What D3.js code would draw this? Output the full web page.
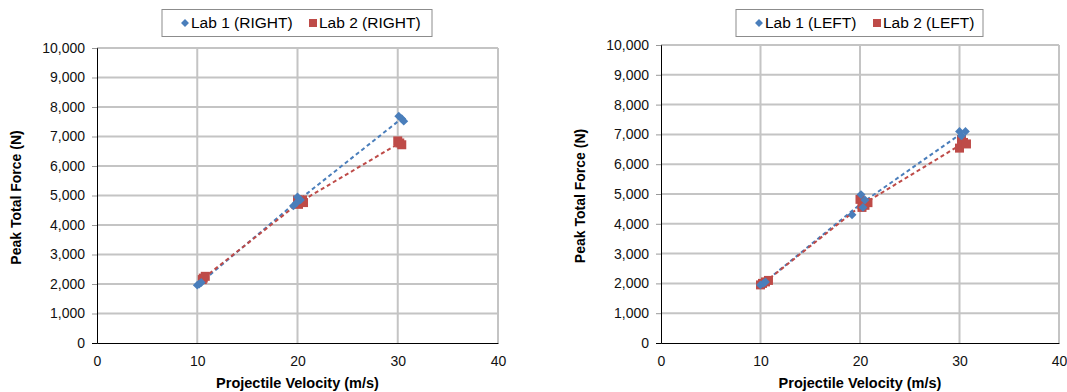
<html>
<head>
<style>
  body { margin: 0; background: #fff; font-family: "Liberation Sans", Arial, Helvetica, sans-serif; }
  svg { display: block; }
</style>
<script src="https://cdn.jsdelivr.net/npm/d3@7"></script>
</head>
<body>
<svg id="grafico" width="1067" height="392"></svg>
<script>
  // ticks
  const xTicks = [0, 10, 20, 30, 40];
  const yTicks = [0, 1000, 2000, 3000, 4000, 5000, 6000, 7000, 8000, 9000, 10000];

  // panel RIGHT: [velocity m/s, peak force N]
  const lab1Right = [[10.0, 1960], [10.2, 2000], [10.4, 2050],
                     [19.6, 4650], [19.9, 4750], [20.0, 4950], [20.3, 4850],
                     [30.1, 7690], [30.4, 7600], [30.6, 7520]];
  const lab2Right = [[10.5, 2150], [10.6, 2200], [10.8, 2260],
                     [20.0, 4850], [20.1, 4700], [20.5, 4850], [20.6, 4760],
                     [30.0, 6850], [30.2, 6780], [30.4, 6720]];

  // panel LEFT
  const lab1Left = [[10.0, 1950], [10.3, 2000], [10.5, 2050],
                    [19.2, 4300], [20.1, 4980], [20.3, 4550], [20.5, 4800],
                    [30.0, 7100], [30.2, 6950], [30.6, 7100]];
  const lab2Left = [[10.0, 1950], [10.2, 2000], [10.5, 2050], [10.8, 2100],
                    [20.0, 4820], [20.2, 4550], [20.5, 4620], [20.8, 4710],
                    [30.0, 6540], [30.2, 6830], [30.4, 6730], [30.7, 6680]];

  const azul = "#4a7ebb", rojo = "#be4b48";
  const svg = d3.select("#grafico");

  function medias(puntos) {
    // media de cada grupo de velocidad para la linea discontinua
    let grupos = d3.groups(puntos, p => Math.round(p[0] / 10) * 10);
    return grupos.map(g => [d3.mean(g[1], p => p[0]), d3.mean(g[1], p => p[1])])
                 .sort((a, b) => a[0] - b[0]);
  }

  function dibujarPanel(conf) {
    let { x0, x1, yTop, yBottom, serie1, serie2, nombre1, nombre2, leyenda } = conf;
    let g = svg.append("g");

    let escalaX = d3.scaleLinear().domain([0, 40]).range([x0, x1]);
    let escalaY = d3.scaleLinear().domain([0, 10000]).range([yBottom, yTop]);

    // rejilla
    g.selectAll(".gx").data(xTicks.slice(1)).enter().append("line")
      .attr("x1", d => escalaX(d)).attr("x2", d => escalaX(d))
      .attr("y1", yTop).attr("y2", yBottom)
      .attr("stroke", "#c4c4c4").attr("stroke-width", 2);
    g.selectAll(".gy").data(yTicks.slice(1)).enter().append("line")
      .attr("x1", x0).attr("x2", x1)
      .attr("y1", d => escalaY(d)).attr("y2", d => escalaY(d))
      .attr("stroke", "#c4c4c4").attr("stroke-width", 2);

    // ejes
    let ejeY = d3.axisLeft(escalaY).tickValues(yTicks).tickSize(5).tickPadding(7)
                 .tickFormat(d3.format(","));
    let gy = g.append("g").attr("transform", `translate(${x0},0)`).call(ejeY);
    let ejeX = d3.axisBottom(escalaX).tickValues(xTicks).tickSize(0).tickPadding(13);
    let gx = g.append("g").attr("transform", `translate(0,${yBottom})`).call(ejeX);
    [gx, gy].forEach(e => {
      e.select(".domain").attr("stroke", "#000");
      e.selectAll(".tick line").attr("stroke", "#000");
      e.selectAll("text").attr("font-family", "Liberation Sans, Arial, sans-serif")
        .attr("font-size", 14).attr("fill", "#111");
    });
    gy.selectAll(".tick line").filter(d => d > 0).attr("stroke", "#999");

    // titulos
    g.append("text").attr("x", (x0 + x1) / 2).attr("y", 388)
      .attr("text-anchor", "middle").attr("font-weight", "bold").attr("font-size", 14.5)
      .text("Projectile Velocity (m/s)");
    g.append("text").attr("transform", `translate(${x0 - 76},${(yTop + yBottom) / 2 + 2}) rotate(-90)`)
      .attr("text-anchor", "middle").attr("font-weight", "bold").attr("font-size", 14)
      .text("Peak Total Force (N)");

    // lineas discontinuas
    let linea = d3.line().x(p => escalaX(p[0])).y(p => escalaY(p[1]));
    [[serie1, azul], [serie2, rojo]].forEach(([s, c]) => {
      g.append("path").attr("d", linea(medias(s))).attr("fill", "none")
        .attr("stroke", c).attr("stroke-width", 2).attr("stroke-dasharray", "4,3");
    });

    // marcadores
    g.selectAll(".cuad").data(serie2).enter().append("rect")
      .attr("x", p => escalaX(p[0]) - 4.5).attr("y", p => escalaY(p[1]) - 4.5)
      .attr("width", 9).attr("height", 9).attr("fill", rojo);
    g.selectAll(".diam").data(serie1).enter().append("path")
      .attr("d", d3.symbol().type(d3.symbolDiamond2).size(50))
      .attr("transform", p => `translate(${escalaX(p[0])},${escalaY(p[1])})`)
      .attr("fill", azul);

    // leyenda
    let ley = g.append("g");
    ley.append("rect").attr("x", leyenda.x).attr("y", 9.5).attr("width", leyenda.w).attr("height", 27)
      .attr("fill", "#fff").attr("stroke", "#8c8c8c");
    ley.append("path").attr("d", d3.symbol().type(d3.symbolDiamond2).size(40))
      .attr("transform", `translate(${leyenda.m1},23)`).attr("fill", azul);
    ley.append("text").attr("x", leyenda.m1 + 6).attr("y", 28).attr("font-size", 15.5).text(nombre1);
    ley.append("rect").attr("x", leyenda.m2 - 4).attr("y", 19).attr("width", 8).attr("height", 8).attr("fill", rojo);
    ley.append("text").attr("x", leyenda.m2 + 6).attr("y", 28).attr("font-size", 15.5).text(nombre2);
  }

  dibujarPanel({ x0: 97, x1: 498, yTop: 48, yBottom: 343, serie1: lab1Right, serie2: lab2Right,
                 nombre1: "Lab 1 (RIGHT)", nombre2: "Lab 2 (RIGHT)",
                 leyenda: { x: 162, w: 270, m1: 185, m2: 313 } });
  dibujarPanel({ x0: 661, x1: 1059, yTop: 45, yBottom: 343, serie1: lab1Left, serie2: lab2Left,
                 nombre1: "Lab 1 (LEFT)", nombre2: "Lab 2 (LEFT)",
                 leyenda: { x: 736, w: 247, m1: 759, m2: 877 } });
</script>
</body>
</html>
